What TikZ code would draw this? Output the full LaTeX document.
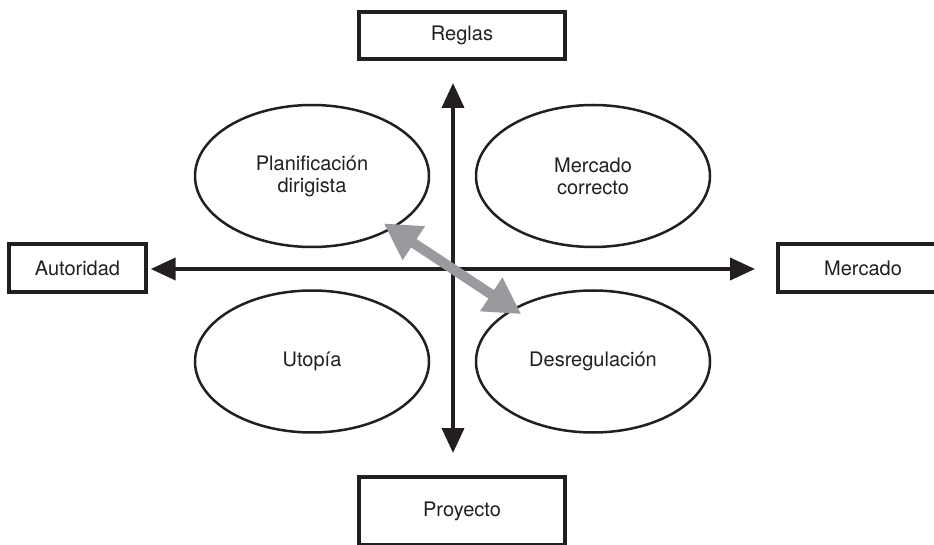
\documentclass[tikz,border=0pt]{standalone}
\usepackage{fontspec}
\setmainfont{TeX Gyre Heros}
\usetikzlibrary{shapes.geometric,arrows.meta}
\begin{document}
\begin{tikzpicture}[x=1pt,y=1pt,
  labelbox/.style={draw=drawColor,line width=3.3pt,rectangle,inner sep=0pt,text=drawColor,font=\fontsize{20}{22}\selectfont},
  quadrant/.style={draw=drawColor,line width=2.5pt,ellipse,minimum width=234pt,minimum height=142pt,inner sep=0pt,align=center,text=drawColor,font=\fontsize{20}{22}\selectfont},
  axis/.style={draw=drawColor,line width=4pt,{Triangle[length=25pt,width=22pt]}-{Triangle[length=25pt,width=22pt]}},
  shiftarrow/.style={draw=arrowColor,line width=10pt,{Triangle[length=36pt,width=38pt]}-{Triangle[length=36pt,width=38pt]}}]
\definecolor{fillColor}{RGB}{255,255,255}
\definecolor{drawColor}{RGB}{35,31,32}
\definecolor{arrowColor}{RGB}{152,154,158}
\path[use as bounding box,fill=fillColor] (0,0) rectangle (934,544);

\node[labelbox,minimum width=206pt,minimum height=47pt] (reglas) at (462,508.5) {Reglas};
\node[labelbox,minimum width=206pt,minimum height=68pt] (proyecto) at (462,33) {Proyecto};
\node[labelbox,minimum width=137pt,minimum height=48pt] (autoridad) at (77.5,276) {Autoridad};
\node[labelbox,minimum width=170pt,minimum height=48pt] (mercado) at (863,276) {Mercado};

\coordinate (axisTop) at (453,461);
\coordinate (axisBottom) at (453,91);
\coordinate (axisLeft) at (150.7,275);
\coordinate (axisRight) at (755,275);
\draw[axis] (axisTop) -- (axisBottom);
\draw[axis] (axisLeft) -- (axisRight);

\node[quadrant] (plan) at (312,368) {Planificación\\dirigista};
\node[quadrant] (correcto) at (593,368) {Mercado\\correcto};
\node[quadrant] (utopia) at (312,182.5) {Utopía};
\node[quadrant] (desreg) at (593,182.5) {Desregulación};

\draw[shiftarrow,shorten <=86pt,shorten >=86pt] (plan.center) -- (desreg.center);
\end{tikzpicture}
\end{document}
